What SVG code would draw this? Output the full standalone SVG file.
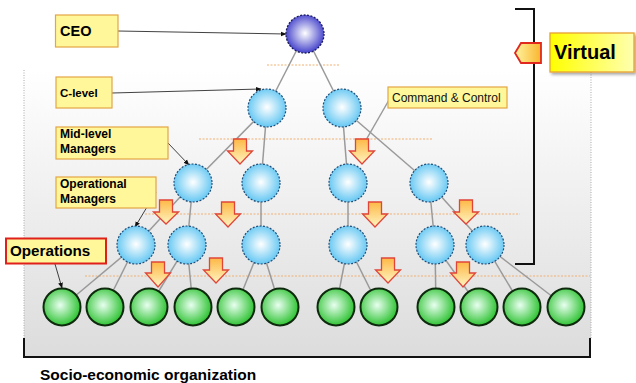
<svg xmlns="http://www.w3.org/2000/svg" width="636" height="383" viewBox="0 0 636 383">
<style>
.lbl{fill:#fff79a;stroke:#e3a545;stroke-width:1.2}
.t{font-family:"Liberation Sans",Arial,sans-serif;font-weight:bold;fill:#000}
.conn{stroke:#9a9a9a;stroke-width:1.5;fill:none}
.ptr{stroke:#111;stroke-width:0.8;fill:none;marker-end:url(#ah)}
.dash{stroke:#f0b070;stroke-width:1;stroke-dasharray:2 1.5;fill:none}
.blue{fill:url(#gb);stroke:#1f4e79;stroke-width:1.2;stroke-dasharray:2 1.5}
.green{fill:url(#gg);stroke:#0d2a0d;stroke-width:2}
.barr{fill:url(#ga);stroke:#e0453a;stroke-width:1.3;stroke-linejoin:miter}
</style>
<defs>
<linearGradient id="bg" x1="0" y1="0" x2="0" y2="1">
<stop offset="0" stop-color="#ffffff"/>
<stop offset="1" stop-color="#dcdcdc"/>
</linearGradient>
<radialGradient id="gb" cx="0.5" cy="0.48" r="0.55">
<stop offset="0" stop-color="#ffffff"/>
<stop offset="1" stop-color="#5cc4f2"/>
</radialGradient>
<radialGradient id="gc" cx="0.5" cy="0.48" r="0.55">
<stop offset="0" stop-color="#ffffff"/>
<stop offset="1" stop-color="#3a38c8"/>
</radialGradient>
<radialGradient id="gg" cx="0.45" cy="0.45" r="0.58">
<stop offset="0" stop-color="#e8fff0"/>
<stop offset="1" stop-color="#26c02a"/>
</radialGradient>
<linearGradient id="ga" x1="0" y1="0" x2="0" y2="1">
<stop offset="0" stop-color="#fdb846"/>
<stop offset="1" stop-color="#fff4c0"/>
</linearGradient>
<linearGradient id="gp" x1="0" y1="0" x2="1" y2="0">
<stop offset="0" stop-color="#fff4a0"/>
<stop offset="1" stop-color="#f9b52e"/>
</linearGradient>
<linearGradient id="gv" x1="0" y1="0" x2="1" y2="0">
<stop offset="0" stop-color="#ffff00"/>
<stop offset="1" stop-color="#ffffb0"/>
</linearGradient>
<marker id="ah" viewBox="0 0 10 10" refX="9" refY="5" markerWidth="6" markerHeight="6" orient="auto" markerUnits="userSpaceOnUse">
<path d="M0,1 L10,5 L0,9 z" fill="#111"/>
</marker>
<filter id="sh" x="-10%" y="-10%" width="130%" height="140%">
<feDropShadow dx="2" dy="2" stdDeviation="1.5" flood-color="#000" flood-opacity="0.35"/>
</filter>
</defs>

<g id="background">
<rect x="24" y="70" width="567" height="287" fill="url(#bg)"/>
<line x1="24" y1="70" x2="24" y2="338" stroke="#aaa" stroke-width="1" stroke-dasharray="1 1.5"/>
<line x1="591" y1="72" x2="591" y2="338" stroke="#aaa" stroke-width="1" stroke-dasharray="1 1.5"/>
<path d="M24,338 V357 H590 V338" fill="none" stroke="#111" stroke-width="2"/>
<text class="t" x="40" y="380" font-size="15.5">Socio-economic organization</text>
</g>

<g id="levels">
<line class="dash" x1="267" y1="65" x2="340" y2="65"/>
<line class="dash" x1="199" y1="139" x2="433" y2="139"/>
<line class="dash" x1="145" y1="214" x2="520" y2="214"/>
<line class="dash" x1="85" y1="276" x2="590" y2="276"/>
</g>

<g id="virtual-bracket">
<path d="M515,9 H534 V264 H515" fill="none" stroke="#111" stroke-width="2"/>
<path d="M515,53 L521,43 H541 V63 H521 Z" fill="url(#gp)" stroke="#e0281e" stroke-width="1.8"/>
</g>

<g id="connectors">
<line class="conn" x1="305" y1="34" x2="267" y2="108"/>
<line class="conn" x1="305" y1="34" x2="342" y2="108"/>
<line class="conn" x1="267" y1="108" x2="193" y2="183"/>
<line class="conn" x1="267" y1="108" x2="261" y2="183"/>
<line class="conn" x1="342" y1="108" x2="348" y2="183"/>
<line class="conn" x1="342" y1="108" x2="429" y2="183"/>
<line class="conn" x1="193" y1="183" x2="136" y2="245"/>
<line class="conn" x1="193" y1="183" x2="187" y2="245"/>
<line class="conn" x1="261" y1="183" x2="261" y2="245"/>
<line class="conn" x1="348" y1="183" x2="348" y2="245"/>
<line class="conn" x1="429" y1="183" x2="435" y2="245"/>
<line class="conn" x1="429" y1="183" x2="485" y2="245"/>
<line class="conn" x1="136" y1="245" x2="62" y2="307"/>
<line class="conn" x1="136" y1="245" x2="105" y2="307"/>
<line class="conn" x1="187" y1="245" x2="149" y2="307"/>
<line class="conn" x1="187" y1="245" x2="193" y2="307"/>
<line class="conn" x1="261" y1="245" x2="236" y2="307"/>
<line class="conn" x1="261" y1="245" x2="280" y2="307"/>
<line class="conn" x1="348" y1="245" x2="336" y2="307"/>
<line class="conn" x1="348" y1="245" x2="379" y2="307"/>
<line class="conn" x1="435" y1="245" x2="436" y2="307"/>
<line class="conn" x1="435" y1="245" x2="479" y2="307"/>
<line class="conn" x1="485" y1="245" x2="522" y2="307"/>
<line class="conn" x1="485" y1="245" x2="566" y2="307"/>
<line class="ptr" x1="118" y1="31" x2="286" y2="34"/>
<line class="ptr" x1="112" y1="93" x2="261" y2="89"/>
<line class="ptr" x1="168" y1="143" x2="189" y2="165"/>
<line class="ptr" x1="156" y1="192" x2="135" y2="227"/>
<line class="ptr" x1="55" y1="264" x2="62" y2="288"/>
<line class="conn" x1="389" y1="100" x2="366" y2="140"/>
</g>

<g id="flow-arrows">
<path class="barr" d="M233.5,139 H246.5 V151 H252.5 L240,164 L227.5,151 H233.5 Z"/>
<path class="barr" d="M355.5,139 H368.5 V151 H374.5 L362,164 L349.5,151 H355.5 Z"/>
<path class="barr" d="M159.5,200 H172.5 V212 H178.5 L166,224 L153.5,212 H159.5 Z"/>
<path class="barr" d="M221.5,202 H234.5 V214 H240.5 L228,227 L215.5,214 H221.5 Z"/>
<path class="barr" d="M368.5,202 H381.5 V214 H387.5 L375,227 L362.5,214 H368.5 Z"/>
<path class="barr" d="M459.5,200 H472.5 V212 H478.5 L466,224 L453.5,212 H459.5 Z"/>
<path class="barr" d="M151.5,262 H164.5 V273 H170.5 L158,287 L145.5,273 H151.5 Z"/>
<path class="barr" d="M209.5,258 H222.5 V270 H228.5 L216,283 L203.5,270 H209.5 Z"/>
<path class="barr" d="M381.5,258 H394.5 V270 H400.5 L388,283 L375.5,270 H381.5 Z"/>
<path class="barr" d="M456.5,262 H469.5 V273 H475.5 L463,287 L450.5,273 H456.5 Z"/>
</g>

<g id="ceo"><circle cx="305" cy="34" r="19" fill="url(#gc)" stroke="#1a1a60" stroke-width="1.3" stroke-dasharray="2 1.5"/></g>
<g id="c-level">
<circle class="blue" cx="267" cy="108" r="19"/>
<circle class="blue" cx="342" cy="108" r="19"/>
</g>
<g id="mid-level">
<circle class="blue" cx="193" cy="183" r="19"/>
<circle class="blue" cx="261" cy="183" r="19"/>
<circle class="blue" cx="348" cy="183" r="19"/>
<circle class="blue" cx="429" cy="183" r="19"/>
</g>
<g id="operational">
<circle class="blue" cx="136" cy="245" r="19"/>
<circle class="blue" cx="187" cy="245" r="19"/>
<circle class="blue" cx="261" cy="245" r="19"/>
<circle class="blue" cx="348" cy="245" r="19"/>
<circle class="blue" cx="435" cy="245" r="19"/>
<circle class="blue" cx="485" cy="245" r="19"/>
</g>
<g id="operations-nodes">
<circle class="green" cx="62" cy="307" r="18.5"/>
<circle class="green" cx="105" cy="307" r="18.5"/>
<circle class="green" cx="149" cy="307" r="18.5"/>
<circle class="green" cx="193" cy="307" r="18.5"/>
<circle class="green" cx="236" cy="307" r="18.5"/>
<circle class="green" cx="280" cy="307" r="18.5"/>
<circle class="green" cx="336" cy="307" r="18.5"/>
<circle class="green" cx="379" cy="307" r="18.5"/>
<circle class="green" cx="436" cy="307" r="18.5"/>
<circle class="green" cx="479" cy="307" r="18.5"/>
<circle class="green" cx="522" cy="307" r="18.5"/>
<circle class="green" cx="566" cy="307" r="18.5"/>
</g>

<g id="label-ceo"><rect class="lbl" x="55.5" y="15" width="62.5" height="32"/><text class="t" x="60" y="35.5" font-size="14.5">CEO</text></g>
<g id="label-c-level"><rect class="lbl" x="56" y="77" width="56" height="31"/><text class="t" x="60" y="97" font-size="11.5">C-level</text></g>
<g id="label-mid"><rect class="lbl" x="56" y="127" width="112" height="32"/><text class="t" x="60" y="138" font-size="12">Mid-level</text><text class="t" x="60" y="153" font-size="12">Managers</text></g>
<g id="label-operational"><rect class="lbl" x="56" y="177" width="100" height="31"/><text class="t" x="60" y="188" font-size="12">Operational</text><text class="t" x="60" y="203" font-size="12">Managers</text></g>
<g id="label-operations"><rect x="6" y="238.5" width="100" height="25" fill="#fff79a" stroke="#e0201a" stroke-width="2"/><text class="t" x="10" y="256" font-size="15.2">Operations</text></g>
<g id="label-command"><rect class="lbl" x="388" y="87" width="119" height="21"/><text x="392" y="102" font-size="12" font-family="Liberation Sans, Arial, sans-serif" fill="#111">Command &amp; Control</text></g>
<g id="label-virtual"><rect x="550" y="33" width="84" height="39" fill="url(#gv)" stroke="#e8a030" stroke-width="1.3" filter="url(#sh)"/><text class="t" x="554" y="59" font-size="20">Virtual</text></g>
</svg>
